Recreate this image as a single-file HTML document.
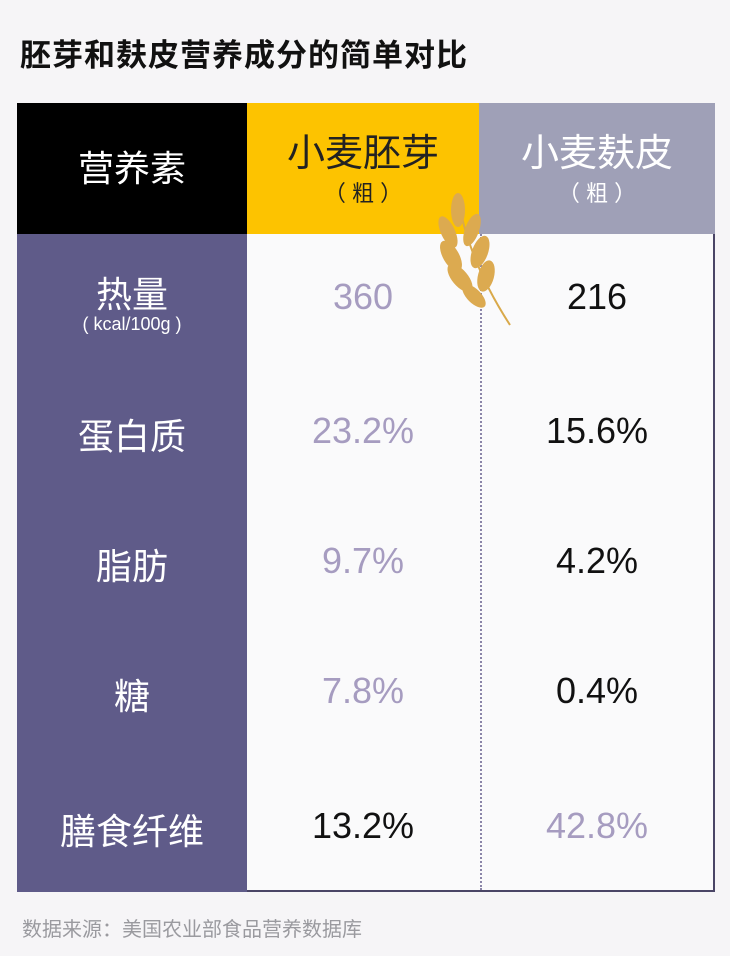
<!DOCTYPE html>
<html><head><meta charset="utf-8"><style>
body{margin:0;width:730px;height:956px;background:#f6f5f7;position:relative;overflow:hidden;font-family:"Liberation Sans","Noto Sans CJK SC",sans-serif}
.a{position:absolute}
.c{position:absolute;text-align:center}
</style></head><body>
<div class="a" style="left:20px;top:30px;font-size:31px;font-weight:bold;color:#111;letter-spacing:1px">胚芽和麸皮营养成分的简单对比</div>
<div class="a" style="left:17px;top:103px;width:230px;height:131px;background:#000"></div>
<div class="a" style="left:247px;top:103px;width:232px;height:131px;background:#fdc300"></div>
<div class="a" style="left:479px;top:103px;width:236px;height:131px;background:#9fa0b7"></div>
<div class="a" style="left:17px;top:234px;width:230px;height:658px;background:#5f5b89"></div>
<div class="a" style="left:247px;top:234px;width:466px;height:656px;background:#fafafb;border-right:2px solid #4a4566;border-bottom:2px solid #4a4566"></div>
<div class="a" style="left:480px;top:234px;height:656px;border-left:2px dotted #8a85a8"></div>
<div class="c" style="left:17px;width:230px;top:140px;font-size:36px;color:#fff">营养素</div>
<div class="c" style="left:247px;width:232px;top:122px;font-size:38px;color:#222">小麦胚芽</div>
<div class="c" style="left:247px;width:232px;top:176px;font-size:22px;color:#222">（ 粗 ）</div>
<div class="c" style="left:479px;width:236px;top:122px;font-size:38px;color:#fff">小麦麸皮</div>
<div class="c" style="left:479px;width:236px;top:176px;font-size:22px;color:#fff">（ 粗 ）</div>
<svg class="a" style="left:428px;top:190px" width="90" height="140" viewBox="0 0 90 140">
<path d="M30 8 Q40 70 82 135" stroke="#d9a94a" stroke-width="2" fill="none"/>
<g fill="#dcaa50">
<ellipse cx="30" cy="20" rx="7" ry="17"/>
<ellipse cx="20" cy="42" rx="7" ry="17" transform="rotate(-25 20 42)"/>
<ellipse cx="44" cy="40" rx="7" ry="17" transform="rotate(20 44 40)"/>
<ellipse cx="23" cy="66" rx="8" ry="17" transform="rotate(-30 23 66)"/>
<ellipse cx="52" cy="62" rx="8" ry="17" transform="rotate(20 52 62)"/>
<ellipse cx="32" cy="88" rx="8" ry="17" transform="rotate(-40 32 88)"/>
<ellipse cx="58" cy="86" rx="8" ry="16" transform="rotate(15 58 86)"/>
<ellipse cx="46" cy="106" rx="7" ry="15" transform="rotate(-45 46 106)"/>
</g></svg>
<div class="c" style="left:17px;width:230px;top:266px;font-size:36px;color:#fff">热量</div>
<div class="c" style="left:17px;width:230px;top:314px;font-size:18px;color:#fff">( kcal/100g )</div>
<div class="c" style="left:17px;width:230px;top:408px;font-size:36px;color:#fff">蛋白质</div>
<div class="c" style="left:17px;width:230px;top:538px;font-size:36px;color:#fff">脂肪</div>
<div class="c" style="left:17px;width:230px;top:668px;font-size:36px;color:#fff">糖</div>
<div class="c" style="left:17px;width:230px;top:803px;font-size:36px;color:#fff">膳食纤维</div>
<div class="c" style="left:247px;width:232px;top:276px;font-size:36px;color:#a69cc0">360</div>
<div class="c" style="left:479px;width:236px;top:276px;font-size:36px;color:#111">216</div>
<div class="c" style="left:247px;width:232px;top:410px;font-size:36px;color:#a69cc0">23.2%</div>
<div class="c" style="left:479px;width:236px;top:410px;font-size:36px;color:#111">15.6%</div>
<div class="c" style="left:247px;width:232px;top:540px;font-size:36px;color:#a69cc0">9.7%</div>
<div class="c" style="left:479px;width:236px;top:540px;font-size:36px;color:#111">4.2%</div>
<div class="c" style="left:247px;width:232px;top:670px;font-size:36px;color:#a69cc0">7.8%</div>
<div class="c" style="left:479px;width:236px;top:670px;font-size:36px;color:#111">0.4%</div>
<div class="c" style="left:247px;width:232px;top:805px;font-size:36px;color:#111">13.2%</div>
<div class="c" style="left:479px;width:236px;top:805px;font-size:36px;color:#a69cc0">42.8%</div>
<div class="a" style="left:22px;top:913px;font-size:20px;color:#9a9a9f">数据来源：美国农业部食品营养数据库</div>
</body></html>
